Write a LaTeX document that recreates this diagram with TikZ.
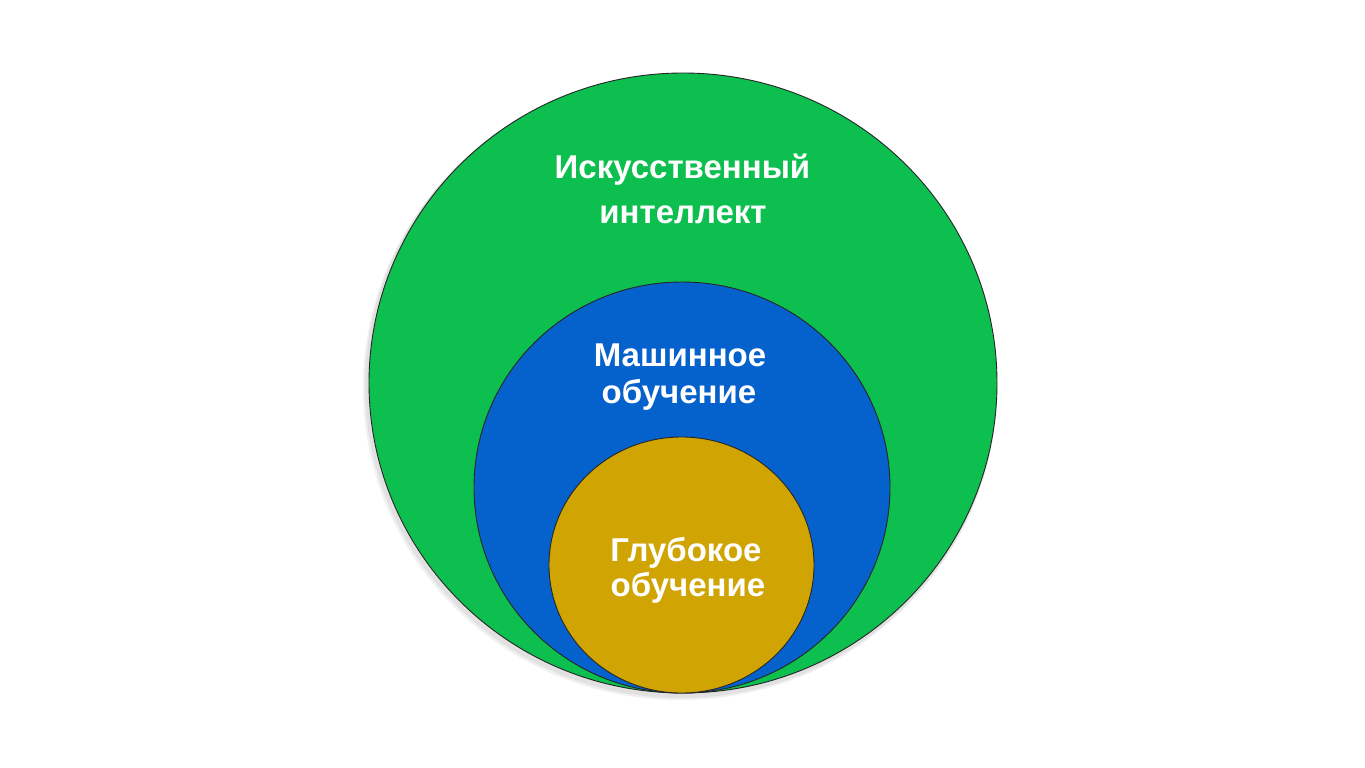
\documentclass[tikz,border=0pt]{standalone}
\usepackage{fontspec}
\newfontfamily\lblfont{Liberation Sans}
\usetikzlibrary{shapes.geometric}
\definecolor{aiGreen}{RGB}{12,191,78}
\definecolor{mlBlue}{RGB}{5,98,205}
\definecolor{dlGold}{RGB}{207,164,3}
\begin{document}
\begin{tikzpicture}[x=1pt,y=-1pt,
  ring/.style={shape=ellipse, draw=black!85, line width=0.9pt, inner sep=0pt},
  shade1/.style={fill=black, opacity=0.06},
  lbl/.style={text=white, font=\lblfont\bfseries\fontsize{33}{33}\selectfont, anchor=base, inner sep=0pt}]
\useasboundingbox (0,0) rectangle (1365,768);
\fill[white] (0,0) rectangle (1365,768);
% soft shadow
\fill[shade1] (681,386) ellipse [x radius=316, y radius=312];
\fill[shade1] (680,388) ellipse [x radius=317, y radius=312];
% circles
\node[ring, fill=aiGreen, minimum width=628pt, minimum height=620pt] (ai) at (683,383) {};
\node[ring, fill=mlBlue, minimum width=416pt, minimum height=411pt] (ml) at (682,487.5) {};
\node[ring, fill=dlGold, minimum width=265pt, minimum height=256pt] (dl) at (681.5,565) {};
% labels
\node[lbl] (ai1) at (682.5,178) {Искусственный};
\node[lbl] (ai2) at (683,223.5) {интеллект};
\node[lbl] (ml1) at (680,366) {Машинное};
\node[lbl] (ml2) at (679,403) {обучение};
\node[lbl] (dl1) at (686,561) {Глубокое};
\node[lbl] (dl2) at (688,596) {обучение};
\end{tikzpicture}
\end{document}
